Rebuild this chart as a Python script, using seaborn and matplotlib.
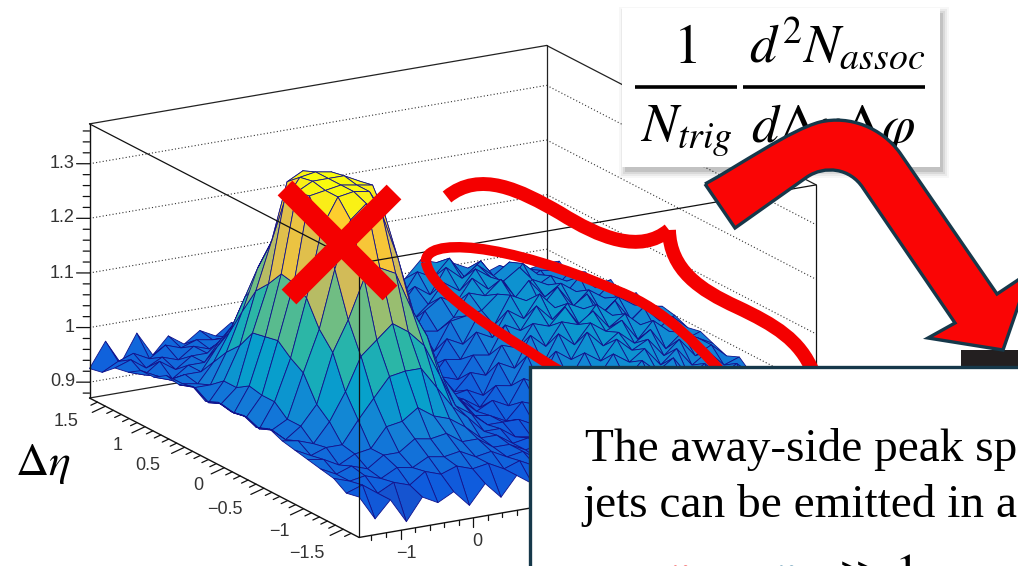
import numpy as np
import seaborn as sns
import matplotlib.pyplot as plt
from matplotlib.path import Path
from matplotlib.patches import PathPatch, Rectangle

# axis ranges and ticks
phi_min, phi_max = -1.57, 4.71
eta_min, eta_max = -1.7, 1.7
z_min, z_max = 0.871, 1.373
z_ticks = [0.9, 1.0, 1.1, 1.2, 1.3]
z_labels = ['0.9', '1', '1.1', '1.2', '1.3']
eta_labels = ['1.5', '1', '0.5', '0', '\u22120.5', '\u22121', '\u22121.5']
phi_labels = ['\u22121', '0']

phi_bins = [-1.57, -1.35, -1.14, -0.92, -0.70, -0.487, -0.27, -0.054, 0.163, 0.38,
            0.596, 0.81, 1.03, 1.25, 1.46, 1.68, 1.90, 2.11, 2.33, 2.55,
            2.76, 2.98, 3.20, 3.41, 3.63, 3.85, 4.06, 4.28, 4.50, 4.71]
eta_bins = [1.70, 1.54, 1.38, 1.21, 1.05, 0.89, 0.73, 0.57, 0.40, 0.24, 0.08,
            -0.08, -0.24, -0.40, -0.57, -0.73, -0.89, -1.05, -1.21, -1.38, -1.54, -1.70]

# correlation values, one row per eta bin
corr = [
    [.925,.97,.925,.975,.93,.96,.94,.96,.945,.965,.95,.955,.945,.94,.945,.935,.925,.96,.965,.995,.99,1.02,1.01,1.005,.99,.975,.985,.96,.97,.975],
    [.93,.945,.955,.94,.96,.95,.96,.955,.955,.95,.945,.95,.94,.935,.93,.95,.93,.945,.985,.975,1.015,1.0,1.03,.99,1.015,.975,.99,.985,.96,.99],
    [.95,.96,.94,.955,.945,.965,.955,.97,.955,.96,.945,.94,.945,.925,.935,.925,.955,.96,.97,1.005,.985,1.03,1.005,1.025,1.0,1.02,.98,.995,.99,.97],
    [.955,.945,.965,.945,.965,.965,.985,.98,.985,.965,.965,.945,.945,.94,.925,.94,.935,.975,.96,.985,1.02,1.0,1.035,1.015,.995,1.03,1.005,.975,1.0,.995],
    [.97,.955,.945,.965,.965,1.0,1.005,1.025,1.005,1.0,.965,.96,.94,.94,.935,.92,.96,.94,.99,1.01,.995,1.035,1.01,1.02,1.04,1.0,1.015,1.0,.98,.985],
    [.97,.96,.965,.965,1.005,1.04,1.075,1.08,1.08,1.04,1.005,.965,.955,.935,.935,.945,.93,.97,.965,.985,1.025,1.015,1.04,1.0,1.03,1.015,.99,1.02,.995,1.005],
    [.985,.965,.96,.995,1.045,1.105,1.13,1.155,1.135,1.105,1.045,.995,.955,.95,.93,.93,.955,.945,.995,1.0,1.005,1.03,1.015,1.045,1.01,1.03,1.01,.985,1.01,.985],
    [.98,.97,.97,1.025,1.095,1.17,1.22,1.255,1.22,1.17,1.095,1.035,.97,.955,.93,.95,.935,.98,.965,1.015,.99,1.04,1.025,1.01,1.04,1.0,1.025,1.005,.99,1.005],
    [.99,.955,.99,1.05,1.145,1.23,1.335,1.35,1.335,1.23,1.145,1.055,.99,.95,.945,.925,.96,.955,1.0,.985,1.03,1.01,1.05,1.02,1.015,1.035,.995,1.02,1.0,.99],
    [.975,.965,.99,1.085,1.17,1.315,1.355,1.36,1.355,1.315,1.17,1.09,.99,.96,.935,.945,.935,.975,.97,1.02,1.005,1.045,1.015,1.04,1.025,1.005,1.03,.99,1.01,1.005],
    [.985,.96,1.005,1.09,1.2,1.345,1.36,1.36,1.36,1.345,1.2,1.095,1.0,.95,.945,.93,.96,.95,1.0,.99,1.03,1.02,1.05,1.01,1.045,1.02,1.0,1.025,.995,1.0],
    [.98,.965,1.0,1.095,1.195,1.35,1.355,1.36,1.355,1.35,1.195,1.1,.995,.96,.94,.945,.93,.985,.97,1.025,1.0,1.04,1.03,1.05,1.015,1.035,1.01,.995,1.015,.99],
    [.985,.955,1.0,1.075,1.18,1.305,1.355,1.36,1.355,1.305,1.18,1.08,1.0,.95,.945,.925,.96,.955,1.005,.985,1.035,1.01,1.045,1.025,1.04,1.0,1.03,1.005,.985,.995],
    [.975,.965,.98,1.06,1.135,1.24,1.325,1.35,1.325,1.24,1.135,1.065,.98,.96,.935,.95,.935,.98,.965,1.02,1.0,1.045,1.015,1.035,1.01,1.03,.99,1.015,1.0,.985],
    [.985,.96,.98,1.015,1.105,1.16,1.23,1.245,1.23,1.16,1.105,1.025,.98,.945,.94,.925,.955,.945,.995,.98,1.025,1.005,1.04,1.015,1.03,.995,1.02,.985,1.0,.975],
    [.975,.97,.96,.995,1.045,1.105,1.13,1.155,1.135,1.105,1.045,.985,.965,.94,.94,.94,.925,.97,.96,1.01,.99,1.03,1.01,1.03,.995,1.02,.985,1.005,.975,.985],
    [.97,.955,.965,.965,1.005,1.04,1.075,1.08,1.08,1.04,1.0,.975,.945,.945,.925,.92,.95,.94,.985,.97,1.015,.995,1.025,1.0,1.02,.98,1.0,.97,.99,.965],
    [.965,.96,.945,.96,.965,1.0,1.005,1.025,1.005,.995,.975,.95,.95,.93,.935,.935,.92,.96,.95,.995,.975,1.015,.99,1.01,.975,1.0,.96,.985,.955,.975],
    [.96,.945,.955,.945,.965,.965,.985,.98,.985,.965,.965,.945,.945,.93,.935,.915,.94,.93,.97,.955,.99,.97,1.0,.975,.995,.96,.985,.95,.97,.95],
    [.955,.945,.95,.94,.955,.95,.965,.96,.965,.95,.955,.94,.945,.925,.93,.93,.915,.945,.935,.975,.955,.985,.965,.985,.955,.975,.945,.965,.94,.96],
    [.94,.95,.93,.945,.935,.955,.945,.955,.945,.95,.935,.945,.93,.935,.92,.91,.935,.92,.95,.935,.965,.95,.97,.945,.965,.935,.955,.93,.95,.93],
    [.945,.90,.93,.885,.925,.91,.925,.895,.93,.90,.935,.915,.94,.92,.93,.905,.93,.91,.935,.93,.92,.95,.935,.925,.95,.925,.945,.92,.94,.92],
]

sns.set_theme(style='white', rc={'font.family': 'Liberation Sans'})
plt.rcParams['mathtext.fontset'] = 'stix'

# same look as the ROOT "bird" palette
bird_colors = ['#352a87', '#0f5cdd', '#1481d6', '#06a4ca', '#2eb7a4',
               '#87bf77', '#d1bb59', '#fec832', '#f9fb0e']
bird = sns.blend_palette(bird_colors, as_cmap=True)

W, H = 1018, 566
fig = plt.figure(figsize=(W / 100, H / 100), dpi=100, facecolor='white')

# the 3D box, orthographic view fitted to the picture
side = 918
ax = fig.add_axes([-26.75 / W, -201.5 / H, side / W, side / H], projection='3d',
                  proj_type='ortho', computed_zorder=False)
ax.view_init(elev=17.33, azim=-119.94)
ax.set_box_aspect((531, 535, 290))
ax.set_axis_off()
ax.patch.set_alpha(0)

X, Y = np.meshgrid(phi_bins, eta_bins)
Z = np.array(corr)
edge = '#12128c'

# rear walls: frame and dotted z grid
for z in z_ticks:
    ax.plot([phi_min, phi_max], [eta_max, eta_max], [z, z], ls=(0, (1, 2)), color='#333333', lw=0.8, zorder=1)
    ax.plot([phi_max, phi_max], [eta_max, eta_min], [z, z], ls=(0, (1, 2)), color='#333333', lw=0.8, zorder=1)
rear = '#222222'
ax.plot([phi_max, phi_max], [eta_max, eta_max], [z_min, z_max], color=rear, lw=0.9, zorder=1)
ax.plot([phi_min, phi_max], [eta_max, eta_max], [z_min, z_min], color=rear, lw=0.9, zorder=1)
ax.plot([phi_max, phi_max], [eta_max, eta_min], [z_min, z_min], color=rear, lw=0.9, zorder=1)
ax.plot([phi_min, phi_max], [eta_max, eta_max], [z_max, z_max], color=rear, lw=0.9, zorder=1)
ax.plot([phi_max, phi_max], [eta_max, eta_min], [z_max, z_max], color=rear, lw=0.9, zorder=1)

ax.plot_surface(X, Y, Z, cmap=bird, vmin=0.87, vmax=1.36, rstride=1, cstride=1,
                edgecolor=edge, linewidth=0.6, shade=False, antialiased=True, zorder=2)

# front frame, over the surface
front = '#111111'
ax.plot([phi_min, phi_min], [eta_min, eta_min], [z_min, z_max], color=front, lw=0.9, zorder=3)
ax.plot([phi_min, phi_min], [eta_max, eta_max], [z_min, z_max], color=front, lw=1.0, zorder=3)
ax.plot([phi_max, phi_max], [eta_min, eta_min], [z_min, z_max], color=front, lw=0.9, zorder=3)
ax.plot([phi_min, phi_min], [eta_max, eta_min], [z_max, z_max], color=front, lw=0.9, zorder=3)
ax.plot([phi_min, phi_max], [eta_min, eta_min], [z_max, z_max], color=front, lw=0.9, zorder=3)
ax.plot([phi_min, phi_min], [eta_max, eta_min], [z_min, z_min], color=front, lw=1.0, zorder=3)
ax.plot([phi_min, phi_max], [eta_min, eta_min], [z_min, z_min], color=front, lw=1.0, zorder=3)

# ticks
for z in np.arange(0.88, 1.37, 0.02):
    major = min(abs(z - t) for t in z_ticks) < 0.001
    a = 0.133 if major else 0.065
    ax.plot([phi_min, phi_min - a], [eta_max, eta_max + a * 0.31], [z, z], color=front, lw=0.9, zorder=3)
for e in np.arange(-1.6, 1.61, 0.1):
    major = abs(e * 2 - round(e * 2)) < 0.01
    a = 0.18 if major else 0.09
    ax.plot([phi_min, phi_min - a], [e, e], [z_min, z_min - a * 0.04], color=front, lw=0.9, zorder=3)
for p in np.arange(-1.4, 2.2, 0.2):
    major = abs(p - round(p)) < 0.01
    d = 0.016 if major else 0.008
    ax.plot([p, p], [eta_min, eta_min], [z_min, z_min - d], color=front, lw=0.9, zorder=3)

# everything else sits on a pixel overlay
ov = fig.add_axes([0, 0, 1, 1])
ov.set_xlim(0, W)
ov.set_ylim(H, 0)
ov.axis('off')
ov.patch.set_alpha(0)

tick_color = '#333333'
for lab, y in zip(z_labels, [381, 327, 273, 218, 163]):
    ov.text(75, y, lab, ha='right', va='center', fontsize=13, color=tick_color)
for lab, (x, y) in zip(eta_labels, [(66, 421), (118, 446), (148, 465), (198, 486), (225, 509), (279, 532), (307, 553)]):
    ov.text(x, y, lab, ha='center', va='center', fontsize=13, color=tick_color)
for lab, (x, y) in zip(phi_labels, [(406, 553), (477, 541)]):
    ov.text(x, y, lab, ha='center', va='center', fontsize=13, color=tick_color)
ov.text(43, 464, r'$\Delta\eta$', ha='center', va='center', fontsize=33, color='black')

red = '#f40000'
navy = '#16384a'

# red cross on the near-side peak
ov.plot([285, 390], [188, 293], color=red, lw=15, solid_capstyle='butt', zorder=5)
ov.plot([394, 289], [192, 297], color=red, lw=15, solid_capstyle='butt', zorder=5)

# brace and ellipse round the away side
C4 = Path.CURVE4
brace1 = Path([(447, 197), (480, 170), (520, 190), (560, 213), (600, 238), (640, 254), (669, 230)],
              [Path.MOVETO, C4, C4, C4, C4, C4, C4])
brace2 = Path([(669, 230), (670, 270), (700, 290), (737, 307), (775, 325), (800, 340), (813, 372)],
              [Path.MOVETO, C4, C4, C4, C4, C4, C4])
for p in (brace1, brace2):
    ov.add_patch(PathPatch(p, fc='none', ec=red, lw=10, capstyle='butt', zorder=4))
ring = Path([(426, 262), (424, 238), (500, 240), (620, 292), (665, 310), (700, 345), (745, 400),
             (700, 440), (600, 400), (530, 352), (470, 315), (430, 285), (426, 262)],
            [Path.MOVETO, C4, C4, C4, C4, C4, C4, C4, C4, C4, C4, C4, C4])
ov.add_patch(PathPatch(ring, fc='none', ec=red, lw=7.5, zorder=4))

# formula card with a soft shadow
for grow, alpha in zip([6, 4, 2, 0], [0.03, 0.05, 0.07, 0.1]):
    ov.add_patch(Rectangle((622 - grow + 3, 8 - grow + 5), 318 + 2 * grow, 159 + 2 * grow,
                           fc='black', ec='none', alpha=alpha, zorder=6))
ov.add_patch(Rectangle((622, 8), 318, 159, fc='white', ec='none', zorder=6))
ov.plot([635, 737], [87, 87], color='black', lw=2.6, solid_capstyle='butt', zorder=7)
ov.plot([743, 925], [87, 87], color='black', lw=2.6, solid_capstyle='butt', zorder=7)
ov.text(685, 63, r'$1$', ha='center', va='baseline', fontsize=40, color='black', zorder=7)
ov.text(749, 62, r'$d^2N_{assoc}$', ha='left', va='baseline', fontsize=39, color='black', zorder=7)
ov.text(640, 142, r'$N_{trig}$', ha='left', va='baseline', fontsize=39, color='black', zorder=7)
ov.text(751, 142, r'$d\Delta\eta\Delta\varphi$', ha='left', va='baseline', fontsize=39, color='black', zorder=7)

# dark stub the arrow points at
ov.add_patch(Rectangle((961, 350), 60, 20, fc='#231f20', ec='none', zorder=8))

# big red arrow
arrow = Path([(705, 184), (740, 165), (790, 130), (820, 122), (850, 115), (882, 128), (900, 153),
              (997, 294), (1030, 272), (1030, 272), (1030, 272), (1003, 350), (1003, 350), (1003, 350),
              (928, 338), (928, 338), (928, 338), (955, 323), (955, 323), (955, 323), (863, 188),
              (850, 168), (825, 165), (807, 177), (735, 228), (735, 228), (735, 228), (705, 184)],
             [Path.MOVETO, C4, C4, C4, C4, C4, C4,
              Path.LINETO, C4, C4, C4, C4, C4, C4,
              C4, C4, C4, C4, C4, C4, Path.LINETO,
              C4, C4, C4, C4, C4, C4, Path.LINETO])
ov.add_patch(PathPatch(arrow, fc='#fa0505', ec=navy, lw=2.4, joinstyle='miter', zorder=9))

# text box in front, cut off by the figure edge
ov.add_patch(Rectangle((530, 367), 520, 260, fc='white', ec=navy, lw=2.4, zorder=10))
ov.text(585, 461, 'The away-side peak sp', fontsize=34, family='Liberation Serif',
        color='black', va='baseline', zorder=11, clip_on=True)
ov.text(582, 517, 'jets can be emitted in a', fontsize=34, family='Liberation Serif',
        color='black', va='baseline', zorder=11, clip_on=True)
ov.text(668, 585, r'$\eta$', fontsize=32, color='#f00000', va='baseline', zorder=11)
ov.text(774, 585, r'$\eta$', fontsize=32, color='#1f6f96', va='baseline', zorder=11)
ov.text(833, 588, r'$\gg 1$', fontsize=36, color='black', va='baseline', zorder=11)

fig.savefig('out.png', dpi=100)
